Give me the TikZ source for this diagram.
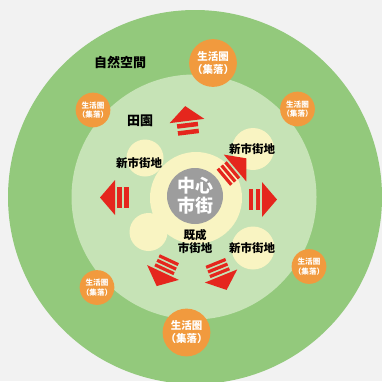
\documentclass[tikz,border=0pt]{standalone}
\usepackage{fontspec}
\setmainfont{Noto Sans CJK JP}
\usetikzlibrary{positioning}
\definecolor{bggray}{HTML}{F2F2F2}
\definecolor{naturegreen}{HTML}{93C97C}
\definecolor{fieldgreen}{HTML}{C6E3B6}
\definecolor{townyellow}{HTML}{F9F4C2}
\definecolor{coregray}{HTML}{9D9D9D}
\definecolor{settleorange}{HTML}{F19A3E}
\definecolor{spreadred}{HTML}{E5261D}

\begin{document}
\begin{tikzpicture}[
    x=1pt, y=-1pt,
    every node/.style={font=\bfseries, inner sep=0pt},
    area/.style={circle, fill=#1, draw=none, inner sep=0pt},
    settlebig/.style={
        circle, fill=settleorange, minimum size=41pt, text=white,
        font=\bfseries\fontsize{10.5}{13}\selectfont, align=center
    },
    settlesmall/.style={
        circle, fill=settleorange, minimum size=32pt, text=white,
        font=\bfseries\fontsize{7.6}{9.5}\selectfont, align=center
    },
    townlabel/.style={font=\bfseries\fontsize{11.5}{13}\selectfont, align=center},
    zonelabel/.style={font=\bfseries\fontsize{13}{15}\selectfont},
    pics/spreadtwo/.style={code={
        \fill[spreadred] (0,-17.5) -- (15,0) -- (0,17.5) -- cycle;
        \fill[spreadred] (-2,-10.5) rectangle (-6.5,10.5);
        \fill[spreadred] (-9,-10.5) rectangle (-13.5,10.5);
    }},
    pics/spreadthree/.style={code={
        \fill[spreadred] (0,-17.5) -- (15,0) -- (0,17.5) -- cycle;
        \foreach \b in {-2,-7,-12}
            \fill[spreadred] (\b,-10.5) rectangle ++(-3.2,21);
    }},
]

% === Background ===
\useasboundingbox (0,0) rectangle (382,381);
\fill[bggray] (0,0) rectangle (382,381);

% === Zones ===
\node[area=naturegreen, minimum size=374pt] (nature) at (195,197) {};
\node[area=fieldgreen, minimum size=245pt] (field) at (194,197) {};

% Built-up areas
\node[area=townyellow, minimum size=92pt] (oldarea) at (196,198) {};
\node[area=townyellow, minimum size=37pt] (newareaNW) at (145,158) {};
\node[area=townyellow, minimum size=38pt] (oldareaSW) at (148.5,232) {};
\node[area=townyellow, minimum size=42pt] (newareaNE) at (253,149) {};
\node[area=townyellow, minimum size=43pt] (newareaSE) at (253,248) {};

% === Center ===
\node[area=coregray, minimum size=56pt, text=white, align=center,
    font=\bfseries\fontsize{18}{20}\selectfont] (core) at (195,196) {中心\\市街};

% Labels
\node[zonelabel] (naturelabel) at (120,62) {自然空間};
\node[zonelabel] (fieldlabel) at (140,121) {田園};
\node[townlabel] (newtownNW) at (139,163) {新市街地};
\node[townlabel] (newtownNE) at (252,149) {新市街地};
\node[townlabel] (newtownSE) at (252,248) {新市街地};
\node[townlabel, below=5pt of core] (oldtown) {既成\\市街地};

% === Settlements ===
\node[settlebig] (settleN) at (213,63) {生活圏\\（集落）};
\node[settlebig] (settleS) at (186.5,332.5) {生活圏\\（集落）};
\node[settlesmall] (settleNW) at (93,110) {生活圏\\（集落）};
\node[settlesmall] (settleNE) at (297.5,109) {生活圏\\（集落）};
\node[settlesmall] (settleE) at (309,266.5) {生活圏\\（集落）};
\node[settlesmall] (settleSW) at (97,287.5) {生活圏\\（集落）};

% === Spread arrows ===
\pic[rotate=97] (spreadN) at (187,121) {spreadtwo};
\pic[rotate=180] (spreadW) at (115,197.5) {spreadtwo};
\pic (spreadE) at (262,199.5) {spreadtwo};
\pic[rotate=40] (spreadNE) at (235,168) {spreadthree};
\pic[rotate=245] (spreadSW) at (163,272.5) {spreadthree};
\pic[rotate=292] (spreadSE) at (221,276) {spreadthree};

\end{tikzpicture}
\end{document}
